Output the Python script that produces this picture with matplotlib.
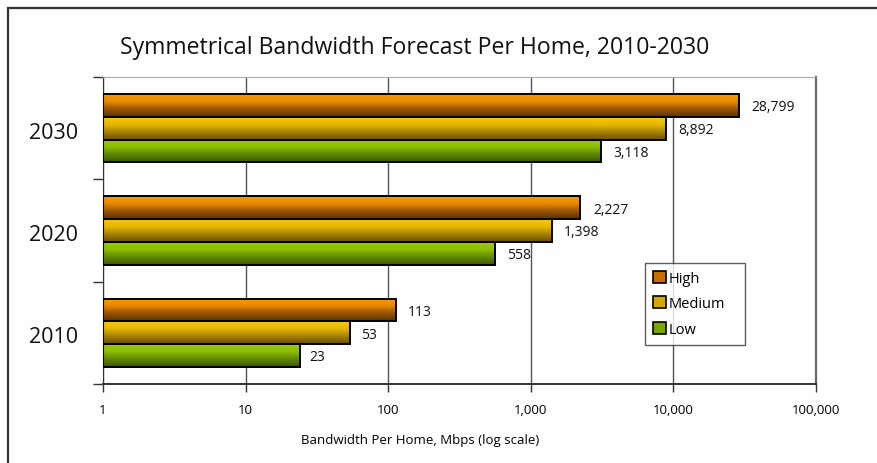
import numpy as np
import matplotlib
matplotlib.use("Agg")
import matplotlib.pyplot as plt
from matplotlib.colors import LinearSegmentedColormap
from matplotlib.patches import Rectangle, Patch
from matplotlib.transforms import blended_transform_factory
from matplotlib.ticker import FixedLocator, NullLocator

plt.rcParams['font.family'] = ['Open Sans', 'DejaVu Sans']

# data
years = ['2010', '2020', '2030']
series = ['High', 'Medium', 'Low']
high = [113, 2227, 28799]
medium = [53, 1398, 8892]
low = [23, 558, 3118]
xticks = [1, 10, 100, 1000, 10000, 100000]
xticklabels = ['1', '10', '100', '1,000', '10,000', '100,000']

# gradient colours, top -> bottom
grad = {
    'High': ['#FA9A00', '#E88A00', '#9A5600', '#5E3300'],
    'Medium': ['#F7C800', '#E6B800', '#A88400', '#6E5200'],
    'Low': ['#9CCC00', '#8DBE00', '#628A00', '#3E5A00'],
}
legend_col = {'High': '#C86E00', 'Medium': '#D8A800', 'Low': '#7AA600'}

fig = plt.figure(figsize=(8.77, 4.64), dpi=100)
fig.patches.append(Rectangle((8 / 877, -0.05), 1.2, 1 - 9 / 464 + 0.05,
                             transform=fig.transFigure, fill=False,
                             edgecolor='#333333', linewidth=1.6))
ax = fig.add_axes([103 / 877, 1 - 385 / 464, (816 - 103) / 877, (385 - 78) / 464])

y = np.arange(len(years))
h = 0.222
offs = {'High': h, 'Medium': 0.0, 'Low': -h}
vals = {'High': high, 'Medium': medium, 'Low': low}

ax.set_xscale('log')
ax.set_xlim(1, 100000)
ax.set_ylim(-0.5, 2.5)

trans = blended_transform_factory(ax.transAxes, ax.transData)
for s in series:
    cmap = LinearSegmentedColormap.from_list(s, grad[s][::-1])
    bars = ax.barh(y + offs[s], vals[s], height=h, left=1, color='none',
                   edgecolor='black', linewidth=1.4, zorder=3)
    for b, v in zip(bars, vals[s]):
        y0 = b.get_y()
        img = ax.imshow(np.linspace(0, 1, 64).reshape(-1, 1), cmap=cmap,
                        extent=(0, 1, y0, y0 + h), origin='lower',
                        transform=trans, aspect='auto', zorder=2)
        img.set_clip_path(b)
        ax.annotate(f'{v:,}', (v, b.get_y() + h / 2), xytext=(9, -1),
                    textcoords='offset points', va='center', ha='left',
                    fontsize=10, color='#111111')

ax.set_xlim(1, 100000)
ax.set_ylim(-0.5, 2.5)

ax.grid(axis='x', color='#555555', linewidth=1.0, zorder=0)
ax.set_axisbelow(True)
ax.xaxis.set_major_locator(FixedLocator(xticks))
ax.xaxis.set_minor_locator(NullLocator())
ax.set_xticklabels(xticklabels)
ax.tick_params(axis='x', direction='out', length=6, width=1, color='#333333',
               labelsize=9.5, pad=8)
ax.set_yticks([-0.5, 0.5, 1.5, 2.5])
ax.set_yticklabels([])
ax.tick_params(axis='y', direction='out', length=7, width=1, color='#333333')
for yy, lab in zip(y, years):
    ax.text(-0.035, yy - 0.04, lab, transform=trans, ha='right', va='center',
            fontsize=15.5, color='#111111')

ax.spines['left'].set_color('#333333')
ax.spines['bottom'].set_color('#333333')
ax.spines['bottom'].set_linewidth(1.4)
ax.spines['top'].set_color('#aaaaaa')
ax.spines['right'].set_color('#666666')
ax.spines['right'].set_linewidth(1.6)

ax.set_xlabel('Bandwidth Per Home, Mbps (log scale)', fontsize=9.5, labelpad=8)
ax.xaxis.set_label_coords((420 - 103) / 713, -0.16)

handles = [Patch(facecolor=legend_col[s], edgecolor='black', linewidth=1.2, label=s)
           for s in series]
leg = ax.legend(handles=handles, loc='upper left', mode='expand',
                bbox_to_anchor=((645 - 103) / 713, (385 - 264) / 307, 100 / 713, 0),
                fontsize=10.5, frameon=True, fancybox=False, handlelength=0.9,
                handleheight=0.9, handletextpad=0.2, borderpad=0.55,
                labelspacing=0.7, borderaxespad=0)
leg.get_frame().set_edgecolor('#333333')
leg.get_frame().set_linewidth(1.0)

fig.text(120 / 877, 1 - 48 / 464, 'Symmetrical Bandwidth Forecast Per Home, 2010-2030',
         fontsize=16.6, va='center', ha='left', color='#111111')

fig.savefig('out.png', dpi=100)
